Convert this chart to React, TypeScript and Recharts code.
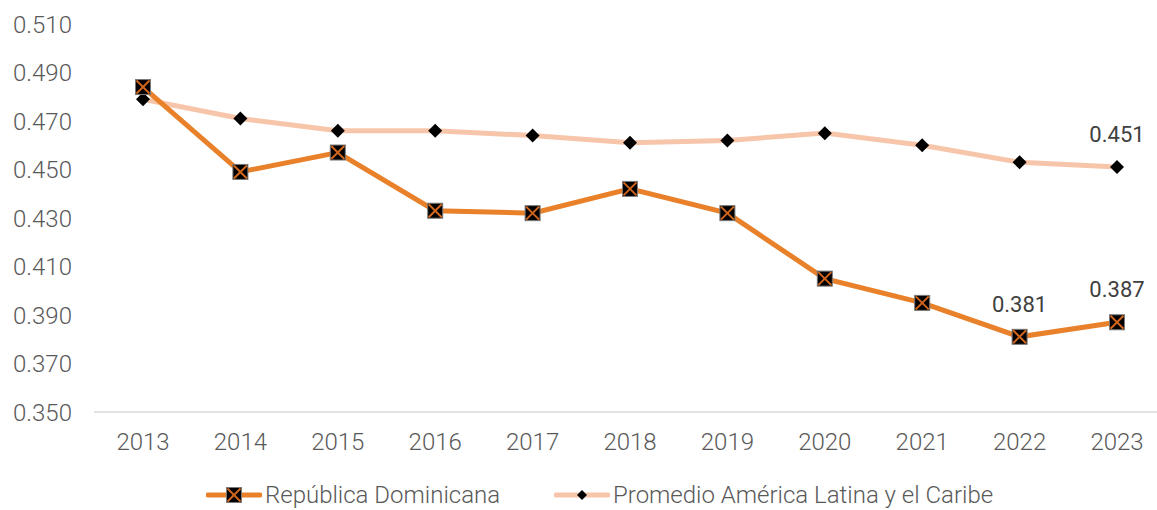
import React from "react";
import { LineChart, Line, XAxis, YAxis, Legend, LabelList } from "recharts";

const years = ["2013", "2014", "2015", "2016", "2017", "2018", "2019", "2020", "2021", "2022", "2023"];
const repDom = [0.484, 0.449, 0.457, 0.433, 0.432, 0.442, 0.432, 0.405, 0.395, 0.381, 0.387];
const promedio = [0.479, 0.471, 0.466, 0.466, 0.464, 0.461, 0.462, 0.465, 0.46, 0.453, 0.451];
const yTicks = [0.35, 0.37, 0.39, 0.41, 0.43, 0.45, 0.47, 0.49, 0.51];
const labeledRepDom = ["2022", "2023"];
const labeledPromedio = ["2023"];

const RD_NAME = "República Dominicana";
const AV_NAME = "Promedio América Latina y el Caribe";
const RD_COLOR = "#E8812A";
const X_COLOR = "#D0661C";
const AV_COLOR = "#F7C6AA";
const FONT = "Roboto, 'Noto Sans', sans-serif";

const data = years.map((y, i) => ({ year: y, rd: repDom[i], av: promedio[i] }));

const SquareX = (props: any) => {
  const { cx, cy } = props;
  if (cx == null || cy == null) return null;
  const s = 7.5;
  const d = s - 1;
  return (
    <g>
      <rect x={cx - s} y={cy - s} width={2 * s} height={2 * s} fill="#000" stroke="#7a7a7a" strokeWidth={1} />
      <line x1={cx - d} y1={cy - d} x2={cx + d} y2={cy + d} stroke={X_COLOR} strokeWidth={2} />
      <line x1={cx - d} y1={cy + d} x2={cx + d} y2={cy - d} stroke={X_COLOR} strokeWidth={2} />
    </g>
  );
};

const Diamond = (props: any) => {
  const { cx, cy } = props;
  if (cx == null || cy == null) return null;
  const s = 7;
  return <path d={`M${cx},${cy - s} L${cx + s},${cy} L${cx},${cy + s} L${cx - s},${cy} Z`} fill="#000" />;
};

const makeLabel = (allowed: string[]) => (props: any) => {
  const { x, y, value, index } = props;
  if (!allowed.includes(years[index])) return null;
  return (
    <text x={x} y={y - 25} textAnchor="middle" fill="#404040" fontSize={22} fontFamily={FONT} fontWeight={400}>
      {Number(value).toFixed(3)}
    </text>
  );
};

const LegendContent = () => (
  <div style={{ position: "relative", height: 30, fontFamily: FONT, fontWeight: 300, fontSize: 24, color: "#595959" }}>
    <div style={{ position: "absolute", left: 206, top: 0, height: 30, display: "flex", alignItems: "center" }}>
      <svg width={56} height={20}>
        <line x1={2} y1={10} x2={54} y2={10} stroke={RD_COLOR} strokeWidth={5} strokeLinecap="round" />
        <SquareX cx={28} cy={10} />
      </svg>
      <span style={{ marginLeft: 3 }}>{RD_NAME}</span>
    </div>
    <div style={{ position: "absolute", left: 554, top: 0, height: 30, display: "flex", alignItems: "center" }}>
      <svg width={56} height={20}>
        <line x1={2} y1={10} x2={54} y2={10} stroke={AV_COLOR} strokeWidth={5} strokeLinecap="round" />
        <path d="M28,5 L33,10 L28,15 L23,10 Z" fill="#000" />
      </svg>
      <span style={{ marginLeft: 3 }}>{AV_NAME}</span>
    </div>
  </div>
);

export default function App() {
  return (
    <div style={{ position: "absolute", left: 0, top: 0, width: 1157, height: 510, overflow: "hidden", background: "#fff" }}>
      <LineChart width={1170} height={510} data={data} margin={{ top: 24, right: 4, bottom: 38, left: 0 }}>
        <XAxis
          dataKey="year"
          tickLine={false}
          tickSize={0}
          tickMargin={21}
          padding={{ left: 49, right: 49 }}
          axisLine={{ stroke: "#D9D9D9", strokeWidth: 1.5 }}
          tick={{ fill: "#595959", fontSize: 24, fontFamily: FONT, fontWeight: 300 }}
          interval={0}
        />
        <YAxis
          width={94}
          domain={[0.35, 0.51]}
          ticks={yTicks}
          tickFormatter={(v: number) => v.toFixed(3)}
          axisLine={false}
          tickLine={false}
          tickSize={0}
          tickMargin={22}
          tick={{ fill: "#595959", fontSize: 24, fontFamily: FONT, fontWeight: 300 }}
          allowDataOverflow
        />
        <Legend
          verticalAlign="bottom"
          height={30}
          content={<LegendContent />}
          wrapperStyle={{ position: "absolute", left: 0, top: 480, width: 1157, height: 30 }}
        />
        <Line
          type="linear"
          dataKey="av"
          name={AV_NAME}
          stroke={AV_COLOR}
          strokeWidth={5}
          dot={<Diamond />}
          activeDot={false}
          isAnimationActive={false}
        >
          <LabelList dataKey="av" content={makeLabel(labeledPromedio)} />
        </Line>
        <Line
          type="linear"
          dataKey="rd"
          name={RD_NAME}
          stroke={RD_COLOR}
          strokeWidth={5}
          dot={<SquareX />}
          activeDot={false}
          isAnimationActive={false}
        >
          <LabelList dataKey="rd" content={makeLabel(labeledRepDom)} />
        </Line>
      </LineChart>
    </div>
  );
}
